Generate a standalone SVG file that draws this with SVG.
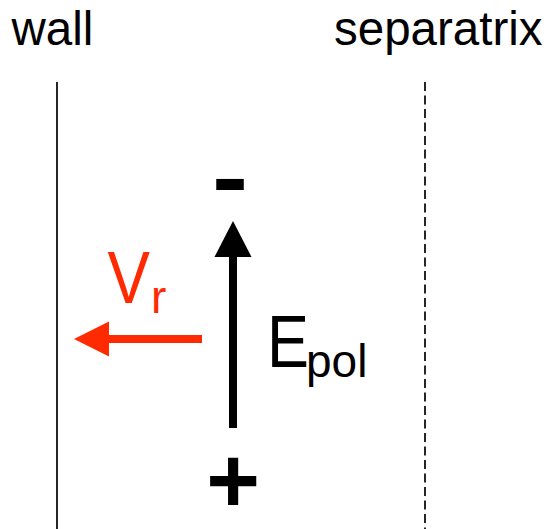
<svg xmlns="http://www.w3.org/2000/svg" width="548" height="529" viewBox="0 0 548 529">
<style>
text{font-family:"Liberation Sans",Arial,Helvetica,sans-serif}
.lbl{font-size:47.5px;fill:#000}
.big{font-size:74px}
.sub{font-size:46px}
.sign{font-size:92px;font-weight:bold;fill:#000;text-anchor:middle}
.red{fill:#ff2a00}
</style>
<defs>
<marker id="ahb" markerWidth="40" markerHeight="40" refX="0" refY="18.5" orient="auto" markerUnits="userSpaceOnUse" overflow="visible">
<path d="M0,0 L36,18.5 L0,37 Z" fill="#000"/>
</marker>
<marker id="ahr" markerWidth="40" markerHeight="40" refX="0" refY="17.5" orient="auto" markerUnits="userSpaceOnUse" overflow="visible">
<path d="M0,0 L35,17.5 L0,35 Z" fill="#ff2a00"/>
</marker>
</defs>
<rect width="548" height="529" fill="#fff"/>
<g id="wall">
<text class="lbl" x="11.5" y="45">wall</text>
<line x1="57" y1="82" x2="57" y2="529" stroke="#000" stroke-width="1.7"/>
</g>
<g id="separatrix">
<text class="lbl" x="334" y="45">separatrix</text>
<line x1="425" y1="82" x2="425" y2="529" stroke="#000" stroke-width="1.7" stroke-dasharray="9 4.5"/>
</g>
<g id="minus"><text class="sign" transform="translate(230,209) scale(1.18,1)">-</text></g>
<g id="plus"><text class="sign" x="233" y="512">+</text></g>
<g id="Epol">
<text class="big" transform="translate(267,367) scale(0.85,1)">E</text>
<text class="sub" x="306" y="377">pol</text>
</g>
<g id="Vr">
<text class="big red" transform="translate(107.5,303) scale(0.86,1)">V</text>
<text class="sub red" x="151" y="313">r</text>
</g>
<g id="connectors">
<line x1="233" y1="428" x2="233" y2="257" stroke="#000" stroke-width="8" marker-end="url(#ahb)"/>
<line x1="202" y1="339" x2="109" y2="339" stroke="#ff2a00" stroke-width="8" marker-end="url(#ahr)"/>
</g>
</svg>
